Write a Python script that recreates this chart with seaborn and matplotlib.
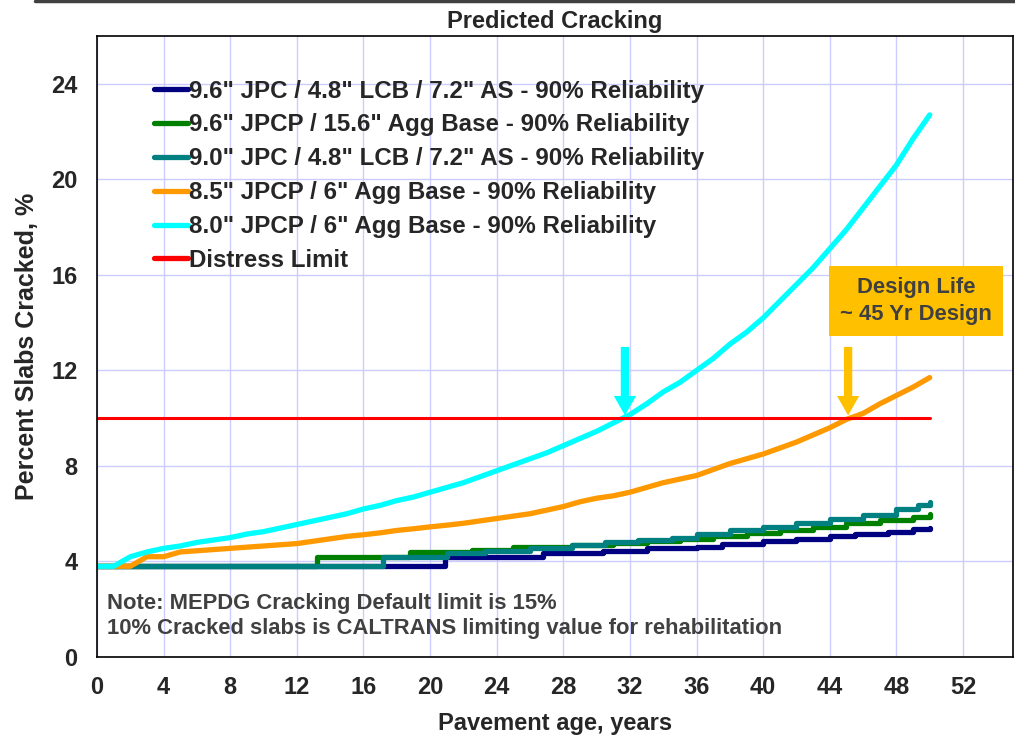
import matplotlib
matplotlib.use("Agg")
import matplotlib.pyplot as plt
from matplotlib.lines import Line2D
import seaborn as sns

# step points (age in years, percent slabs cracked)
navy_age = [0, 20.9, 26.8, 30.4, 33.0, 36.0, 37.5, 40.0, 42.0, 44.0, 45.5, 47.5, 49.0, 50.0]
navy_val = [3.8, 4.2, 4.35, 4.45, 4.55, 4.6, 4.75, 4.85, 4.95, 5.05, 5.15, 5.25, 5.35, 5.4]

green_age = [0, 13.2, 18.8, 22.5, 25.0, 28.5, 31.0, 33.0, 35.0, 37.0, 39.0, 41.0, 43.0, 45.0, 47.0, 49.0, 50.0]
green_val = [3.8, 4.2, 4.4, 4.5, 4.6, 4.7, 4.77, 4.85, 4.95, 5.05, 5.2, 5.3, 5.45, 5.6, 5.72, 5.85, 6.0]

teal_age = [0, 17.2, 21.0, 23.3, 26.0, 28.5, 30.5, 32.5, 34.5, 36.0, 38.0, 40.0, 42.0, 44.0, 46.0, 48.0, 49.3, 50.0]
teal_val = [3.8, 4.2, 4.35, 4.45, 4.55, 4.7, 4.8, 4.9, 5.0, 5.15, 5.3, 5.45, 5.6, 5.8, 5.95, 6.2, 6.35, 6.5]

# yearly readings for the two thinner designs
years = list(range(0, 51))
orange_val = [3.8, 3.8, 3.8, 4.2, 4.2, 4.4, 4.45, 4.5, 4.55, 4.6,
              4.65, 4.7, 4.75, 4.85, 4.95, 5.05, 5.12, 5.2, 5.3, 5.37,
              5.45, 5.52, 5.6, 5.7, 5.8, 5.9, 6.0, 6.15, 6.3, 6.5,
              6.65, 6.75, 6.9, 7.1, 7.3, 7.45, 7.6, 7.85, 8.1, 8.3,
              8.5, 8.75, 9.0, 9.3, 9.6, 9.95, 10.2, 10.6, 10.95, 11.3,
              11.7]
cyan_val = [3.8, 3.8, 4.2, 4.4, 4.55, 4.65, 4.8, 4.9, 5.0, 5.15,
            5.25, 5.4, 5.55, 5.7, 5.85, 6.0, 6.2, 6.35, 6.55, 6.7,
            6.9, 7.1, 7.3, 7.55, 7.8, 8.05, 8.3, 8.55, 8.85, 9.15,
            9.45, 9.8, 10.15, 10.6, 11.1, 11.5, 12.0, 12.5, 13.1, 13.6,
            14.2, 14.9, 15.6, 16.3, 17.1, 17.9, 18.8, 19.7, 20.6, 21.7,
            22.7]

limit_age = [0, 50]
limit_val = [10, 10]

labels = ['9.6" JPC / 4.8" LCB / 7.2" AS - 90% Reliability',
          '9.6" JPCP / 15.6" Agg Base - 90% Reliability',
          '9.0" JPC / 4.8" LCB / 7.2" AS - 90% Reliability',
          '8.5" JPCP / 6" Agg Base - 90% Reliability',
          '8.0" JPCP / 6" Agg Base - 90% Reliability',
          'Distress Limit']

sns.set_style("white")
plt.rcParams['font.family'] = ['Liberation Sans', 'DejaVu Sans']
plt.rcParams['font.weight'] = 'bold'

fig = plt.figure(figsize=(10.15, 7.36), dpi=100)
ax = fig.add_axes([0.0956, 0.1073, 0.9024, 0.8437])

lw = 3.8
sns.lineplot(x=navy_age, y=navy_val, ax=ax, color="#000080", lw=lw, drawstyle="steps-post",
             sort=False, label=labels[0], solid_capstyle="round")
sns.lineplot(x=green_age, y=green_val, ax=ax, color="#008000", lw=lw, drawstyle="steps-post",
             sort=False, label=labels[1], solid_capstyle="round")
sns.lineplot(x=teal_age, y=teal_val, ax=ax, color="#008080", lw=lw, drawstyle="steps-post",
             sort=False, label=labels[2], solid_capstyle="round")
sns.lineplot(x=years, y=orange_val, ax=ax, color="#FF9900", lw=lw, sort=False,
             label=labels[3], solid_capstyle="round")
sns.lineplot(x=years, y=cyan_val, ax=ax, color="#00FFFF", lw=lw, sort=False,
             label=labels[4], solid_capstyle="round")
sns.lineplot(x=limit_age, y=limit_val, ax=ax, color="#FF0000", lw=2.2, sort=False,
             label=labels[5])

ax.set_xlim(0, 55)
ax.set_ylim(0, 26)
ax.set_xticks(range(0, 53, 4))
ax.set_yticks(range(0, 25, 4))
ax.grid(True, color="#CCCCFF", lw=1.0)
ax.set_axisbelow(True)
for s in ax.spines.values():
    s.set_color("black")
    s.set_linewidth(1.2)
ax.tick_params(axis="both", direction="out", length=5, width=1, color="#808080",
               labelsize=17, pad=9)
for t in ax.get_xticklabels() + ax.get_yticklabels():
    t.set_fontweight("bold")

ax.set_xlabel("Pavement age, years", fontsize=17, fontweight="bold", labelpad=9)
ax.set_ylabel("Percent Slabs Cracked, %", fontsize=18, fontweight="bold", labelpad=9)
ax.set_title("Predicted Cracking", fontsize=17, fontweight="bold", pad=6)

leg = ax.legend(loc="upper left", bbox_to_anchor=(0.062, 0.93), frameon=False,
                borderpad=0, borderaxespad=0, fontsize=17.4, handlelength=1.42,
                handletextpad=0.05, labelspacing=0.45)
for t in leg.get_texts():
    t.set_fontweight("bold")
for h in leg.get_lines():
    h.set_linewidth(3.8)

# notes and call-outs
ax.text(0.6, 1.7, "Note: MEPDG Cracking Default limit is 15%\n"
        "10% Cracked slabs is CALTRANS limiting value for rehabilitation",
        color="#404040", fontsize=15.8, fontweight="bold", va="center", linespacing=1.25)

ax.annotate("", xy=(31.7, 10.0), xytext=(31.7, 13.1),
            arrowprops=dict(arrowstyle="simple,head_width=1.6,head_length=1.4,tail_width=0.6",
                            color="#00FFFF", lw=0))
ax.annotate("", xy=(45.1, 10.0), xytext=(45.1, 13.1),
            arrowprops=dict(arrowstyle="simple,head_width=1.6,head_length=1.4,tail_width=0.6",
                            color="#FFC000", lw=0))
ax.text(49.2, 14.9, "Design Life\n~ 45 Yr Design", color="#404040", fontsize=15.8,
        fontweight="bold", ha="center", va="center", linespacing=1.35,
        bbox=dict(boxstyle="square,pad=0.5", fc="#FFC000", ec="none"))

fig.add_artist(Line2D([0.034, 1.0], [0.998, 0.998], color="#404040", lw=2.5,
                      transform=fig.transFigure))

fig.savefig("out.png", dpi=100)
